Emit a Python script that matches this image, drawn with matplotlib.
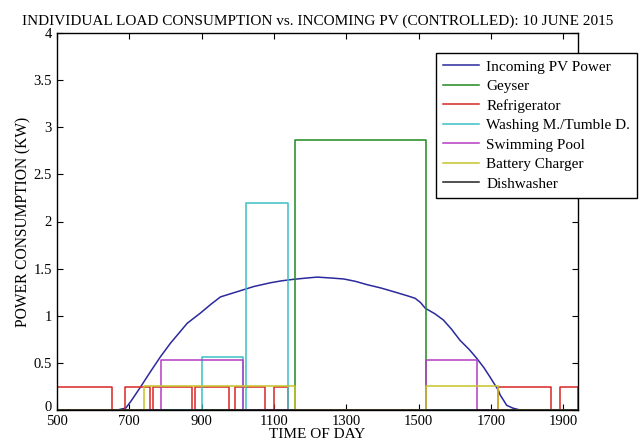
import numpy as np
import matplotlib.pyplot as plt
import matplotlib.transforms as mtrans

plt.rcParams['font.family'] = ['Liberation Serif', 'DejaVu Serif']

# incoming PV power
pv_t = [500, 667, 690, 704, 732, 759, 787, 814, 860, 897, 925, 952, 998, 1044, 1090,
        1120, 1155, 1190, 1219, 1260, 1293, 1325, 1357, 1395, 1431, 1470, 1490, 1505,
        1518, 1545, 1568, 1590, 1614, 1640, 1660, 1680, 1697, 1710, 1720, 1725, 1735,
        1743, 1760, 1780]
pv_kw = [0, 0, 0.02, 0.09, 0.25, 0.41, 0.57, 0.71, 0.92, 1.03, 1.12, 1.20, 1.255, 1.31,
         1.35, 1.37, 1.387, 1.40, 1.41, 1.40, 1.39, 1.365, 1.33, 1.295, 1.255, 1.21,
         1.185, 1.14, 1.08, 1.02, 0.955, 0.86, 0.74, 0.64, 0.55, 0.45, 0.35, 0.27, 0.21,
         0.16, 0.10, 0.05, 0.02, 0.0]

# on-periods (start, end) and power level for each load
geyser_on = [(1159, 1520)]
geyser_kw = 2.87
fridge_on = [(500, 651), (688, 757), (766, 872), (882, 975), (992, 1075),
             (1100, 1140), (1720, 1866), (1890, 1940)]
fridge_kw = 0.245
washer_on = [(900, 1015), (1023, 1138)]
washer_kw = [0.56, 2.2]
pool_on = [(787, 1015), (1520, 1660)]
pool_kw = 0.53
charger_on = [(741, 1159), (1520, 1720)]
charger_kw = 0.25
dish_on = []
dish_kw = 0.0


def steps(periods, levels, t0=500, t1=1940):
    if np.isscalar(levels):
        levels = [levels] * len(periods)
    x, y = [t0], [0]
    for (a, b), lv in zip(periods, levels):
        x += [a, a, b, b]
        y += [0, lv, lv, 0]
    x.append(t1)
    y.append(0)
    return x, y


fig = plt.figure(figsize=(6.4, 4.43), dpi=100)
ax = fig.add_axes([0.089, 0.0745, 0.814, 0.851])

ax.plot(pv_t, pv_kw, color='#2a2a9c', lw=1.1, label='Incoming PV Power')
ax.plot(*steps(geyser_on, geyser_kw), color='#1f8a1f', lw=1.1, label='Geyser')
ax.plot(*steps(fridge_on, fridge_kw), color='#d92626', lw=1.1, label='Refrigerator')
ax.plot(*steps(washer_on, washer_kw), color='#3cc0c4', lw=1.1, label='Washing M./Tumble D.')
ax.plot(*steps(pool_on, pool_kw), color='#b43cc4', lw=1.1, label='Swimming Pool')
ax.plot(*steps(charger_on, charger_kw), color='#c8c428', lw=1.1, label='Battery Charger')
ax.plot(*steps(dish_on, dish_kw), color='#202020', lw=1.1, label='Dishwasher')

ax.set_xlim(500, 1940)
ax.set_ylim(0, 4)
ax.set_xticks(range(500, 1901, 200))
ax.set_yticks(np.arange(0, 4.01, 0.5))
ax.set_yticklabels(['0', '0.5', '1', '1.5', '2', '2.5', '3', '3.5', '4'])
ax.tick_params(direction='in', top=True, right=True, labelsize=10.5, length=4)
for s in ax.spines.values():
    s.set_linewidth(1.0)

# nudge the y "0" label up a little so it clears the x "500" label
lab0 = ax.get_yticklabels()[0]
lab0.set_transform(lab0.get_transform() +
                   mtrans.ScaledTranslation(0, 3 / 72, fig.dpi_scale_trans))

ax.set_title('INDIVIDUAL LOAD CONSUMPTION vs. INCOMING PV (CONTROLLED): 10 JUNE 2015',
             fontsize=11, pad=6)
ax.set_xlabel('TIME OF DAY', fontsize=11, labelpad=0)
ax.set_ylabel('POWER CONSUMPTION (KW)', fontsize=11.2, labelpad=1.5)

leg = ax.legend(loc='upper left', bbox_to_anchor=(0.681, 0.880),
                bbox_transform=fig.transFigure, fontsize=11, fancybox=False,
                edgecolor='black', framealpha=1, labelspacing=0.38,
                handlelength=2.4, handletextpad=0.45, borderpad=0.45,
                borderaxespad=0)
leg.get_frame().set_linewidth(1.0)

fig.savefig('out.png', dpi=100)
